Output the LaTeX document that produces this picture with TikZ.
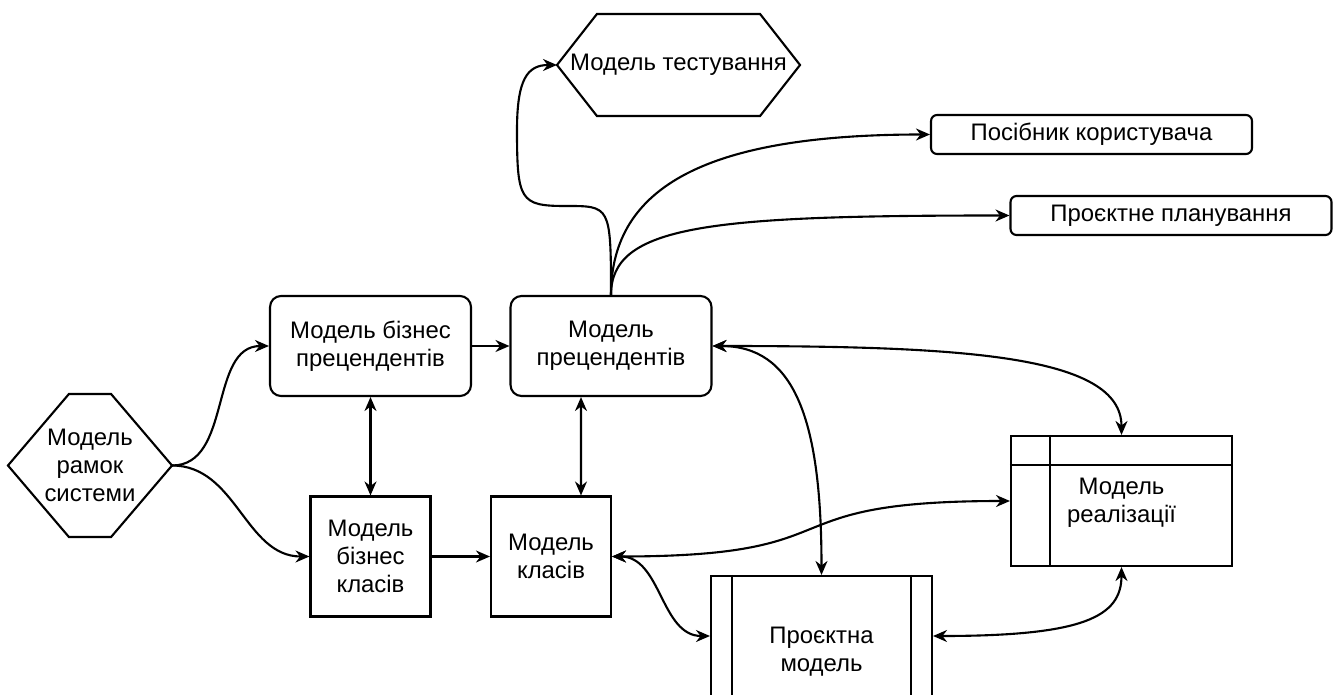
\documentclass[tikz,border=0pt]{standalone}
\usepackage{fontspec}
\setmainfont{Liberation Sans}
\usetikzlibrary{arrows.meta}

\begin{document}
\begin{tikzpicture}[x=0.02cm,y=0.02cm,line width=1.2pt,
    >={Stealth[length=0.28cm,width=0.24cm]},
    every node/.style={font=\fontsize{13.6}{15.8}\selectfont,align=center,inner sep=0pt},
    box/.style={draw,rectangle,minimum width=2.4cm,minimum height=2.4cm},
    rbox/.style={draw,rectangle,rounded corners=0.22cm,minimum width=4.02cm,minimum height=2cm},
    doc/.style={draw,rectangle,rounded corners=0.12cm,minimum width=6.42cm,minimum height=0.78cm},
    frame/.style={draw,rectangle,minimum width=4.42cm}]
    \useasboundingbox (0,0) rectangle (1338,-695);
    \clip (0,0) rectangle (1338,-695);

    \node (rama) at (90,-465.5) [minimum width=3.24cm,minimum height=2.82cm] {Модель\\рамок\\системи};
    \node (testing) at (678.5,-65) [minimum width=4.82cm,minimum height=2cm] {Модель тестування};
    \node[rbox] (bizprec) at (370.5,-346) {Модель бізнес\\прецендентів};
    \node[rbox] (prec) at (611,-346) {Модель\\прецендентів};
    \node[box] (bizcls) at (370.5,-556.5) {Модель\\бізнес\\класів};
    \node[box] (cls) at (551,-556.5) {Модель\\класів};
    \node[doc] (posib) at (1091.5,-134.5) {Посібник користувача};
    \node[doc] (plan) at (1171,-215.5) {Проєктне планування};
    \node[frame,minimum height=2.6cm] (realiz) at (1121.5,-501) {};
    \node (realiztext) at (1121.5,-503) {Модель\\реалізації};
    \node[frame,minimum height=3.04cm] (proekt) at (821.5,-652) {Проєктна\\модель};

    % hexagons
    \draw (rama.west) -- ([xshift=1.22cm]rama.north west) -- ([xshift=-1.22cm]rama.north east)
        -- (rama.east) -- ([xshift=-1.22cm]rama.south east) -- ([xshift=1.22cm]rama.south west) -- cycle;
    \draw (testing.west) -- ([xshift=0.8cm]testing.north west) -- ([xshift=-0.8cm]testing.north east)
        -- (testing.east) -- ([xshift=-0.8cm]testing.south east) -- ([xshift=0.8cm]testing.south west) -- cycle;

    % inner lines
    \draw ([xshift=0.8cm]realiz.north west) -- ([xshift=0.8cm]realiz.south west);
    \draw ([yshift=-0.6cm]realiz.north west) -- ([yshift=-0.6cm]realiz.north east);
    \draw ([xshift=0.44cm]proekt.north west) -- ([xshift=0.44cm]proekt.south west);
    \draw ([xshift=-0.44cm]proekt.north east) -- ([xshift=-0.44cm]proekt.south east);

    \coordinate (t1) at (565,-206);
    \coordinate (t2) at (517,-130);

    \draw[->] (rama.east) to[out=0,in=180] (bizprec.west);
    \draw[->] (rama.east) to[out=0,in=180] (bizcls.west);
    \draw[->] (bizprec) -- (prec);
    \draw[->] (bizcls) -- (cls);
    \draw[<->] (bizprec) -- (bizcls);
    \draw[<->] ([xshift=-0.6cm]prec.south) -- ([xshift=0.6cm]cls.north);

    \draw[->] (prec.north) .. controls +(0,90) and +(45,0) .. (t1)
        .. controls +(-45,0) and +(0,-70) .. (t2)
        .. controls +(0,50) and +(-30,0) .. (testing.west);
    \draw[->] (prec.north) .. controls +(0,110) and +(-220,0) .. (posib.west);
    \draw[->] (prec.north) .. controls +(0,70) and +(-300,0) .. (plan.west);

    \draw[<->] (prec.east) .. controls +(250,0) and +(0,80) .. (realiz.north);
    \draw[<->] (prec.east) .. controls +(80,0) and +(0,160) .. (proekt.north);
    \draw[<->] (cls.east) to[out=0,in=180,looseness=1.6] (realiz.west);
    \draw[<->] (cls.east) to[out=0,in=180] ([yshift=0.32cm]proekt.west);
    \draw[<->] ([yshift=0.32cm]proekt.east) .. controls +(150,0) and +(0,-50) .. (realiz.south);

\end{tikzpicture}
\end{document}
